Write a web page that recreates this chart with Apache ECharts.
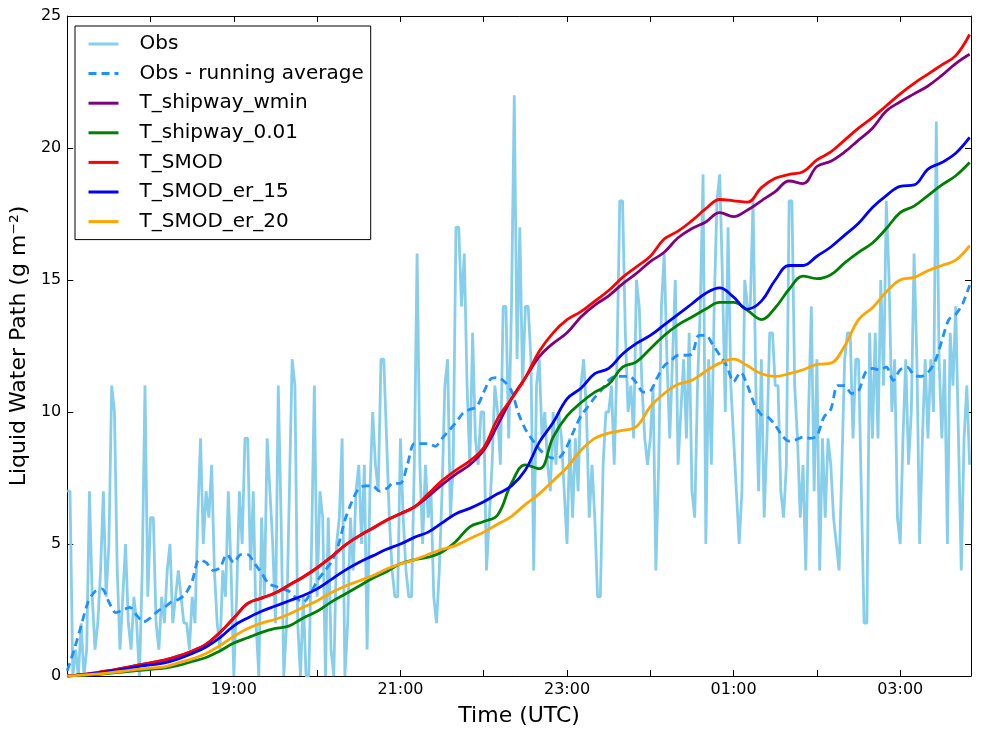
<!DOCTYPE html>
<html>
<head>
<meta charset="utf-8">
<script src="https://cdn.jsdelivr.net/npm/echarts@6/dist/echarts.min.js"></script>
<style>
html,body{margin:0;padding:0;background:#fff;}
#chart{width:982px;height:735px;}
</style>
</head>
<body>
<div id="chart"></div>
<script>
// Time axis: minutes since 17:00 UTC
const xTickLabels = {120:'19:00',240:'21:00',360:'23:00',480:'01:00',600:'03:00'};

// Obs: integer LWP every 2 minutes starting 17:00
const obsStep = 2;
const obsValues = [
 7,7,0,1,0,2,0,1,7,3,1,2,4,7,3,5,11,10,4,1,3,5,2,1,3,2,0,4,11,3,
 6,6,2,1,3,2,4,5,2,3,4,3,2,2,1,3,2,6,9,5,7,6,8,4,2,1,4,3,7,4,
 0,3,7,5,9,9,4,7,2,0,6,3,9,7,5,2,11,6,0,2,7,12,11,2,0,3,0,0,5,11,
 3,7,6,0,6,1,0,5,6,9,0,2,6,4,7,8,5,8,1,7,10,8,7,12,12,9,6,4,3,3,
 9,6,4,3,3,8,16,8,5,8,6,7,3,2,4,7,11,12,6,8,17,17,14,16,11,8,13,9,8,10,
 10,4,6,8,11,10,8,14,14,9,14,22,12,17,11,14,14,12,4,11,12,9,10,8,7,10,8,10,9,7,
 5,9,6,9,7,11,12,10,6,8,6,3,3,8,10,10,11,8,12,18,18,13,10,11,9,15,14,11,9,8,
 9,11,4,8,14,16,12,9,12,15,8,10,12,9,13,7,6,11,14,19,5,12,8,14,18,19,15,10,17,11,
 9,7,5,7,15,14,14,18,11,7,12,6,9,13,13,11,11,7,6,8,18,18,11,9,6,8,4,10,14,7,
 12,4,9,6,9,8,6,5,4,8,12,13,13,9,12,12,7,2,2,13,9,13,9,15,11,18,15,10,12,6,
 5,9,12,8,10,16,12,5,9,12,9,12,10,21,12,9,12,5,13,11,14,9,4,9,11,8
];

// Obs running average every 5 minutes
const avgStep = 5;
const obsAvg = [
 0.2,1.0,1.9,2.8,3.2,3.3,2.8,2.4,2.5,2.6,2.3,2.05,
 2.2,2.45,2.6,2.8,2.9,3.1,3.6,4.4,4.3,4.0,4.1,4.6,
 4.3,4.6,4.6,4.25,3.9,3.5,3.4,3.3,3.2,2.95,2.8,3.1,
 3.6,3.95,4.3,4.9,5.9,6.6,7.1,7.2,7.2,7.0,7.1,7.3,
 7.3,8.0,8.8,8.8,8.8,8.7,9.0,9.3,9.6,9.95,10.1,10.2,
 10.75,11.25,11.3,11.15,10.8,9.95,9.35,8.95,8.6,8.35,8.25,8.3,
 8.7,9.3,9.85,10.2,10.55,10.85,11.2,11.35,11.35,11.35,11.1,10.75,
 10.8,11.3,11.75,11.95,12.15,12.15,12.2,12.9,12.9,12.55,12.15,11.75,
 11.15,11.5,11.0,10.3,9.9,9.8,9.5,9.1,8.9,8.95,9.05,9.0,
 9.1,9.8,10.1,11.0,11.0,10.7,10.8,11.5,11.65,11.6,11.7,11.2,
 11.6,11.7,11.4,11.35,11.5,11.9,12.7,13.5,13.7,14.1,14.8
];

// Model series every 10 minutes
const modelStep = 10;
const shipwayWmin = [
 0,0.05,0.12,0.2,0.3,0.4,0.5,0.6,0.75,0.95,1.2,1.65,2.2,2.75,2.95,3.15,3.45,3.75,4.1,4.5,
 4.95,5.3,5.6,5.9,6.15,6.4,6.8,7.25,7.65,8.0,8.55,9.5,10.5,11.3,12.1,12.6,13.0,13.6,14.05,14.4,
 14.85,15.25,15.7,16.05,16.6,16.95,17.2,17.55,17.4,17.65,18.0,18.35,18.75,18.65,19.3,19.5,19.85,20.3,20.75,21.4,
 21.75,22.05,22.35,22.75,23.2,23.55
];
const shipway001 = [
 0,0.02,0.05,0.1,0.15,0.2,0.25,0.3,0.4,0.55,0.7,0.95,1.25,1.45,1.65,1.8,1.9,2.2,2.45,2.8,
 3.1,3.4,3.7,3.95,4.25,4.4,4.5,4.7,5.1,5.65,5.85,6.1,7.3,8.0,7.85,9.05,9.85,10.35,10.75,11.05,
 11.7,11.9,12.4,12.9,13.3,13.6,13.9,14.15,14.15,13.85,13.5,13.95,14.65,15.15,15.05,15.2,15.65,16.05,16.4,16.95,
 17.55,17.8,18.2,18.6,18.95,19.45
];
const smod = [
 0,0.05,0.12,0.2,0.3,0.4,0.5,0.6,0.75,0.95,1.2,1.65,2.2,2.75,2.95,3.15,3.45,3.75,4.1,4.5,
 4.95,5.3,5.6,5.9,6.15,6.4,6.9,7.4,7.8,8.15,8.65,9.75,10.5,11.3,12.3,13.0,13.5,13.8,14.2,14.6,
 15.1,15.5,15.9,16.55,16.85,17.25,17.7,18.05,18.0,17.95,18.5,18.85,19.0,19.1,19.55,19.85,20.3,20.75,21.15,21.6,
 22.05,22.45,22.8,23.15,23.5,24.3
];
const smodEr15 = [
 0,0.04,0.1,0.17,0.25,0.35,0.42,0.5,0.65,0.85,1.1,1.45,1.9,2.2,2.45,2.65,2.85,3.05,3.3,3.65,
 4.0,4.3,4.55,4.8,5.0,5.25,5.45,5.8,6.15,6.35,6.6,6.9,7.2,7.8,8.85,9.6,10.5,10.9,11.45,11.65,
 12.2,12.6,12.9,13.3,13.7,14.1,14.5,14.7,14.35,13.9,14.2,15.0,15.55,15.55,15.9,16.25,16.7,17.15,17.75,18.2,
 18.55,18.6,19.2,19.45,19.8,20.4
];
const smodEr20 = [
 0,0.03,0.07,0.12,0.18,0.25,0.3,0.35,0.5,0.65,0.85,1.15,1.5,1.8,2.0,2.15,2.35,2.6,2.85,3.15,
 3.4,3.6,3.8,4.05,4.25,4.4,4.6,4.8,4.95,5.2,5.45,5.75,6.05,6.5,6.9,7.4,7.9,8.55,9.0,9.2,
 9.3,9.45,10.2,10.7,11.05,11.2,11.55,11.85,12.0,11.75,11.45,11.35,11.45,11.6,11.8,11.85,12.5,13.5,13.95,14.55,
 15.0,15.1,15.35,15.55,15.75,16.3
];

const seriesNames = ['Obs','Obs - running average','T_shipway_wmin','T_shipway_0.01','T_SMOD','T_SMOD_er_15','T_SMOD_er_20'];
const seriesColors = ['#87CEEB','#1E90FF','#800080','#008000','#FF0000','#0000FF','#FFA500'];

function toPairs(arr, step){ return arr.map((v,i)=>[i*step, v]); }

const chart = echarts.init(document.getElementById('chart'), null, {renderer:'canvas'});
const FONT = 'DejaVu Sans';
const LW = 2.8;
const axisCommon = {
  axisLine:{show:true, onZero:false, lineStyle:{color:'#000', width:1}},
  axisTick:{show:true, inside:true, length:6, lineStyle:{color:'#000', width:1}},
  splitLine:{show:false}
};
function lineSeries(idx, data, extra){
  return Object.assign({
    name: seriesNames[idx], type:'line', data: data,
    showSymbol:false, symbol:'none', smooth:false,
    lineStyle:{color:seriesColors[idx], width:LW},
    itemStyle:{color:seriesColors[idx]},
    emphasis:{disabled:true}, animation:false, clip:true,
    xAxisIndex:0, yAxisIndex:0
  }, extra||{});
}

chart.setOption({
  animation:false,
  backgroundColor:'#fff',
  textStyle:{fontFamily:FONT},
  grid:{left:66, right:11, top:16, bottom:59, containLabel:false},
  legend:{
    show:true, orient:'vertical', left:75, top:26,
    backgroundColor:'#fff', borderColor:'#000', borderWidth:1, borderRadius:0,
    padding:[7,7,7,12],
    itemWidth:30, itemHeight:12, itemGap:7.6,
    itemStyle:{opacity:0},
    lineStyle:{width:3},
    textStyle:{fontFamily:FONT, fontSize:20, color:'#000', lineHeight:22, padding:[0,0,0,16]},
    data: seriesNames.map(n=>({name:n}))
  },
  xAxis:[
    Object.assign({type:'value', min:0, max:651, interval:60, position:'bottom',
      name:'Time (UTC)', nameLocation:'middle', nameGap:29,
      nameTextStyle:{fontFamily:FONT, fontSize:22, color:'#000'},
      axisLabel:{show:true, margin:6, fontFamily:FONT, fontSize:16, color:'#000',
        showMaxLabel:false,
        formatter:v=> (xTickLabels[v] || '')}
    }, axisCommon),
    Object.assign({type:'value', min:0, max:651, interval:60, position:'top',
      axisLabel:{show:false}}, axisCommon)
  ],
  yAxis:[
    Object.assign({type:'value', min:0, max:25, interval:5, position:'left',
      name:'Liquid Water Path (g m\u207B\u00B2)', nameLocation:'middle', nameGap:37, nameRotate:90,
      nameTextStyle:{fontFamily:FONT, fontSize:22, color:'#000'},
      axisLabel:{show:true, margin:6, fontFamily:FONT, fontSize:16, color:'#000'}
    }, axisCommon),
    Object.assign({type:'value', min:0, max:25, interval:5, position:'right',
      axisLabel:{show:false}}, axisCommon)
  ],
  series:[
    lineSeries(0, toPairs(obsValues, obsStep)),
    lineSeries(1, toPairs(obsAvg, avgStep), {smooth:0.3, lineStyle:{color:seriesColors[1], width:LW, type:[8,5]}}),
    lineSeries(2, toPairs(shipwayWmin, modelStep), {smooth:0.4}),
    lineSeries(3, toPairs(shipway001, modelStep), {smooth:0.4}),
    lineSeries(4, toPairs(smod, modelStep), {smooth:0.4}),
    lineSeries(5, toPairs(smodEr15, modelStep), {smooth:0.4}),
    lineSeries(6, toPairs(smodEr20, modelStep), {smooth:0.4})
  ]
});
</script>
</body>
</html>
